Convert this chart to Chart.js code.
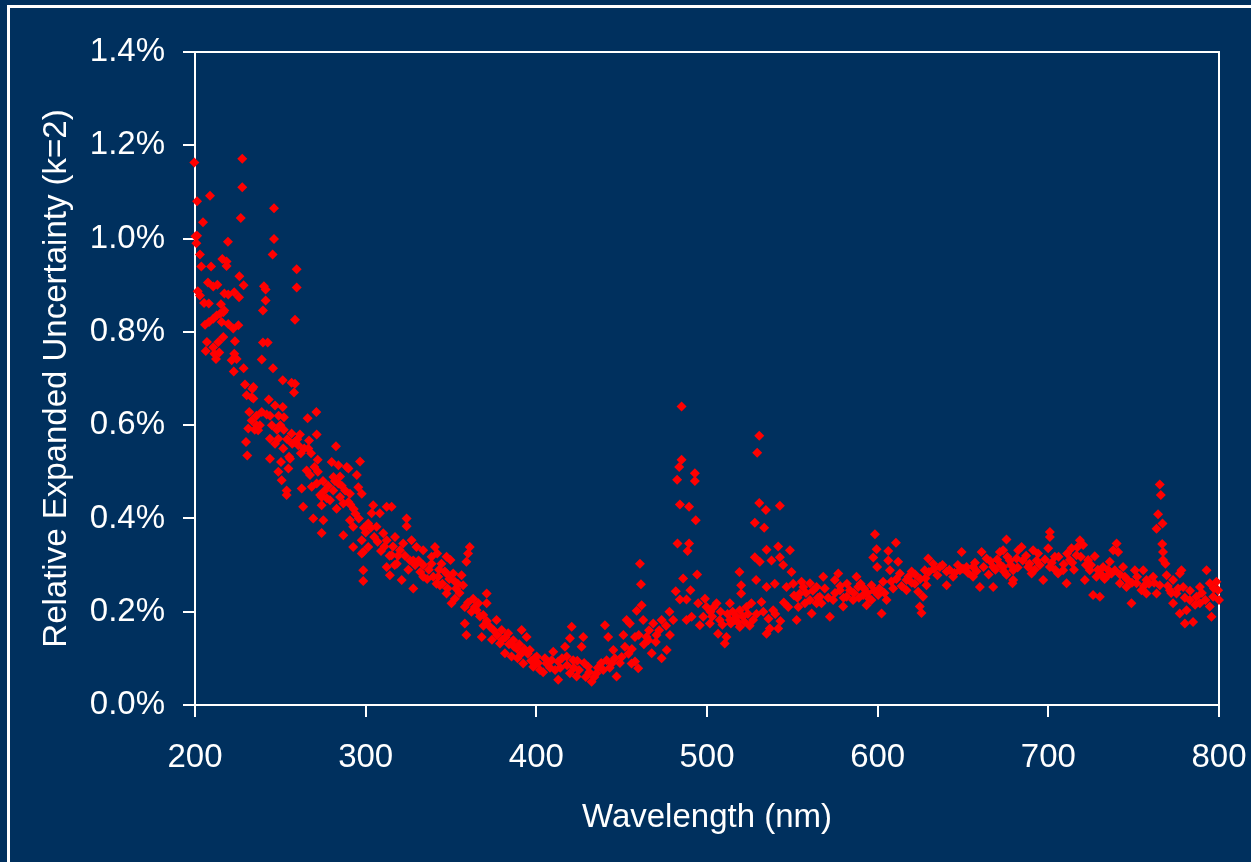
<!DOCTYPE html>
<html>
<head>
<meta charset="utf-8">
<title>Relative Expanded Uncertainty</title>
<script src="https://cdn.jsdelivr.net/npm/chart.js@4.4.1/dist/chart.umd.min.js"></script>
<style>
  html, body { margin: 0; padding: 0; background: #00305e; }
  #wrap { width: 1251px; height: 862px; }
</style>
</head>
<body>
<div id="wrap"><canvas id="uncertainty-chart" width="1251" height="862"></canvas></div>
<script>
// Wavelength (nm) of each measurement, grouped by spectral region
const wavelengthNm = [
  // 200-230 nm
  199.6, 200.3, 200.8, 201.2, 201.2, 201.6, 202.9, 202.9, 203.7, 204.7,
  205.3, 205.9, 206.3, 207.0, 207.6, 208.1, 208.2, 208.8, 209.4, 210.7,
  210.7, 210.7, 211.3, 212.3, 212.7, 213.1, 213.7, 214.2, 214.6, 215.2,
  215.6, 216.0, 216.6, 216.6, 217.2, 217.2, 218.5, 218.5, 219.3, 219.5,
  219.5, 221.5, 222.4, 222.7, 223.0, 223.0, 223.4, 224.4, 225.4, 225.8,
  226.0, 226.8, 227.7, 227.7, 228.5, 228.5, 229.3, 229.9, 230.3, 230.6,
  // 231-300 nm
  231.2, 231.8, 233.2, 233.2, 233.6, 234.2, 234.2, 235.0, 236.0, 236.1,
  237.0, 238.0, 239.1, 239.1, 239.8, 239.8, 240.4, 241.4, 241.4, 242.0,
  242.6, 243.2, 243.9, 243.9, 244.0, 245.0, 245.5, 245.7, 246.3, 246.3,
  246.9, 246.9, 248.0, 248.8, 248.8, 249.0, 250.0, 250.4, 250.8, 251.4,
  251.4, 251.7, 252.0, 252.1, 253.7, 253.7, 254.0, 254.7, 255.1, 255.7,
  256.6, 256.6, 257.0, 258.0, 258.6, 258.6, 258.6, 259.6, 259.6, 260.0,
  260.5, 261.5, 262.0, 262.5, 263.4, 264.0, 265.4, 266.0, 266.4, 266.8,
  267.4, 268.0, 268.4, 269.3, 270.0, 271.1, 271.3, 271.3, 271.9, 272.0,
  273.3, 274.2, 274.2, 274.2, 275.0, 275.2, 276.0, 277.2, 278.0, 279.1,
  280.1, 281.0, 281.1, 282.0, 282.6, 283.0, 284.0, 284.0, 285.0, 285.0,
  286.0, 286.9, 286.9, 288.0, 288.9, 289.9, 289.9, 290.8, 290.8, 291.0,
  292.7, 292.7, 293.0, 294.0, 294.8, 295.7, 296.0, 296.7, 297.7, 297.7,
  297.7, 298.6, 298.6, 298.6, 299.0, 300.0,
  // 301-400 nm
  301.5, 301.5, 303.0, 303.5, 304.4, 305.0, 306.4, 307.0, 308.3, 309.0,
  310.3, 311.0, 312.3, 312.3, 312.3, 314.0, 314.2, 315.2, 315.2, 316.0,
  317.0, 317.2, 318.2, 319.0, 320.1, 321.1, 322.0, 323.0, 324.0, 324.0,
  325.0, 326.0, 326.9, 327.9, 327.9, 329.0, 329.8, 331.0, 332.0, 333.7,
  333.7, 333.7, 336.0, 337.0, 338.6, 338.6, 339.6, 340.6, 341.5, 341.9,
  342.5, 343.0, 343.5, 344.4, 345.0, 346.4, 347.4, 347.4, 347.4, 348.0,
  349.0, 349.7, 350.3, 351.3, 352.3, 352.3, 353.0, 354.0, 355.0, 356.2,
  357.1, 358.1, 358.1, 359.0, 359.0, 360.0, 360.0, 361.0, 362.0, 363.0,
  364.0, 365.0, 366.0, 367.0, 368.0, 368.9, 369.0, 370.9, 370.9, 371.0,
  372.8, 374.0, 375.0, 376.7, 377.0, 378.7, 379.7, 380.0, 381.6, 382.0,
  383.5, 384.0, 385.5, 386.5, 387.0, 388.5, 389.0, 390.0, 391.4, 391.4,
  392.3, 393.0, 394.3, 395.0, 396.2, 397.0, 398.2, 399.0, 400.2,
  // 401-480 nm
  401.0, 402.1, 404.0, 405.0, 406.0, 408.0, 409.0, 409.9, 411.0, 412.8,
  412.8, 414.0, 415.0, 416.8, 417.8, 418.0, 419.7, 419.7, 420.7, 421.6,
  422.0, 423.6, 424.0, 425.0, 426.5, 427.5, 428.0, 429.0, 430.4, 431.0,
  432.4, 434.0, 435.3, 436.0, 438.0, 439.2, 440.2, 441.2, 442.1, 443.0,
  444.1, 445.1, 446.0, 447.0, 449.0, 450.0, 451.0, 451.9, 452.9, 454.0,
  454.8, 455.8, 456.0, 457.8, 457.8, 458.8, 459.7, 460.0, 460.7, 461.3,
  461.7, 462.6, 463.0, 464.6, 465.6, 466.0, 467.6, 468.5, 470.0, 470.4,
  472.0, 473.4, 473.4, 476.0, 476.4, 478.0, 478.3, 480.2,
  // 481-558 nm
  481.7, 482.5, 482.7, 483.7, 484.1, 484.1, 485.1, 485.1, 486.0, 488.0,
  488.0, 488.6, 489.5, 489.5, 490.3, 491.0, 492.9, 492.9, 493.4, 494.2,
  494.8, 495.8, 497.8, 498.8, 499.7, 501.7, 502.0, 503.0, 504.0, 505.6,
  506.5, 507.5, 508.0, 509.0, 510.4, 511.4, 512.0, 513.4, 513.4, 514.0,
  515.0, 516.0, 517.3, 518.0, 519.0, 519.2, 519.2, 520.0, 520.0, 521.0,
  522.0, 523.1, 524.0, 525.0, 526.0, 527.0, 528.0, 528.0, 528.8, 529.0,
  529.4, 530.6, 530.6, 530.9, 531.9, 533.0, 533.5, 534.5, 534.9, 534.9,
  534.9, 536.0, 536.8, 537.8, 538.8, 539.7, 540.0, 541.7, 541.7, 542.7,
  542.7, 543.0, 544.6, 545.0, 546.6, 547.6, 548.6, 549.5, 550.5, 551.0,
  552.5, 553.0, 553.5, 554.4, 555.4, 556.4, 557.4, 558.0,
  // 560-638 nm
  560.3, 560.3, 561.3, 562.0, 564.2, 564.2, 565.0, 566.1, 567.1, 568.1,
  569.0, 571.0, 572.0, 573.9, 574.9, 575.0, 576.9, 577.9, 578.0, 579.8,
  580.0, 581.8, 582.0, 583.7, 585.6, 586.0, 587.6, 588.6, 589.0, 590.0,
  591.5, 592.0, 593.5, 594.0, 595.0, 596.4, 596.4, 597.4, 598.0, 598.4,
  599.4, 599.7, 600.3, 601.0, 602.3, 603.2, 604.0, 605.2, 606.2, 606.2,
  607.2, 608.0, 609.1, 610.7, 611.0, 612.0, 613.0, 614.0, 616.9, 616.9,
  618.0, 619.9, 620.0, 621.8, 622.0, 623.7, 624.7, 625.0, 625.7, 626.6,
  627.6, 628.0, 628.6, 629.6, 630.0, 632.5, 633.0, 635.0, 636.4, 638.0,
  // 640-719 nm
  640.4, 640.4, 642.0, 644.2, 645.0, 647.0, 648.2, 649.2, 650.0, 652.1,
  653.0, 655.9, 655.9, 657.0, 658.0, 659.9, 660.9, 662.0, 663.8, 665.0,
  666.0, 667.7, 667.7, 669.0, 670.0, 671.6, 672.0, 673.5, 673.5, 674.0,
  675.5, 675.5, 676.0, 677.4, 678.0, 679.0, 679.4, 679.4, 681.4, 682.0,
  682.3, 684.3, 685.0, 687.0, 688.2, 689.0, 690.2, 691.1, 692.0, 693.1,
  694.0, 695.0, 697.0, 698.0, 699.9, 700.9, 700.9, 700.9, 702.0, 703.8,
  704.0, 705.7, 706.0, 708.7, 709.0, 710.7, 711.0, 712.6, 713.6, 714.0,
  715.0, 716.5, 717.0, 718.5, 719.0,
  // 720-800 nm
  720.4, 721.4, 722.0, 723.3, 724.3, 725.0, 726.2, 727.2, 728.2, 729.0,
  730.2, 731.0, 732.1, 733.0, 734.1, 735.0, 736.0, 737.0, 738.0, 739.0,
  740.0, 740.9, 741.9, 742.0, 743.8, 744.8, 745.8, 746.0, 748.7, 749.0,
  750.7, 751.7, 752.0, 754.6, 755.6, 756.0, 757.5, 757.5, 759.0, 761.4,
  762.0, 763.4, 763.4, 764.3, 765.3, 765.3, 765.9, 766.7, 766.9, 767.2,
  767.2, 768.6, 769.3, 770.0, 771.2, 772.0, 773.1, 773.1, 775.1, 776.0,
  777.0, 777.0, 778.0, 779.0, 780.0, 780.0, 781.0, 782.9, 783.0, 784.8,
  786.0, 786.8, 788.8, 788.8, 790.0, 792.0, 792.7, 794.6, 794.6, 795.6,
  796.6, 797.0, 798.5, 799.5, 800.0
];

// Relative expanded uncertainty (k=2) in percent, same order as wavelengthNm
const uncertaintyPct = [
  // 200-230 nm
  1.163, 1.005, 0.990, 1.080, 1.006, 0.887, 0.878, 0.966, 0.940, 1.035,
  0.862, 0.815, 0.759, 0.778, 0.906, 0.861, 0.821, 1.092, 0.940, 0.828,
  0.767, 0.897, 0.753, 0.742, 0.835, 0.901, 0.778, 0.756, 0.839, 0.859,
  0.821, 0.956, 0.842, 0.789, 0.882, 0.846, 0.951, 0.941, 0.993, 0.880,
  0.817, 0.739, 0.807, 0.715, 0.885, 0.753, 0.780, 0.742, 0.814, 0.874,
  0.919, 1.044, 1.171, 1.110, 0.900, 0.722, 0.687, 0.564, 0.664, 0.535,
  // 231-300 nm
  0.593, 0.628, 0.610, 0.660, 0.678, 0.657, 0.682, 0.590, 0.620, 0.600,
  0.589, 0.600, 0.741, 0.628, 0.777, 0.846, 0.898, 0.891, 0.867, 0.623,
  0.777, 0.655, 0.571, 0.528, 0.620, 0.600, 0.966, 0.722, 1.065, 0.999,
  0.642, 0.560, 0.590, 0.571, 0.500, 0.620, 0.600, 0.521, 0.482, 0.696,
  0.639, 0.550, 0.590, 0.617, 0.460, 0.450, 0.570, 0.507, 0.532, 0.528,
  0.691, 0.582, 0.560, 0.670, 0.689, 0.826, 0.564, 0.934, 0.895, 0.570,
  0.557, 0.580, 0.540, 0.464, 0.425, 0.550, 0.503, 0.615, 0.550, 0.567,
  0.493, 0.540, 0.468, 0.400, 0.510, 0.628, 0.580, 0.475, 0.526, 0.500,
  0.450, 0.446, 0.428, 0.369, 0.480, 0.396, 0.460, 0.443, 0.470, 0.439,
  0.521, 0.460, 0.489, 0.480, 0.555, 0.421, 0.514, 0.475, 0.446, 0.490,
  0.470, 0.432, 0.364, 0.460, 0.510, 0.507, 0.435, 0.453, 0.396, 0.430,
  0.382, 0.339, 0.420, 0.410, 0.493, 0.467, 0.400, 0.522, 0.453, 0.353,
  0.325, 0.328, 0.289, 0.266, 0.380, 0.370,
  // 301-400 nm
  0.389, 0.339, 0.380, 0.411, 0.428, 0.360, 0.382, 0.350, 0.411, 0.330,
  0.368, 0.340, 0.425, 0.353, 0.296, 0.320, 0.278, 0.425, 0.321, 0.340,
  0.300, 0.360, 0.303, 0.320, 0.332, 0.268, 0.346, 0.320, 0.400, 0.383,
  0.290, 0.310, 0.353, 0.310, 0.250, 0.300, 0.339, 0.310, 0.285, 0.332,
  0.300, 0.275, 0.270, 0.290, 0.318, 0.303, 0.275, 0.339, 0.260, 0.325,
  0.275, 0.290, 0.257, 0.303, 0.260, 0.286, 0.318, 0.282, 0.239, 0.250,
  0.270, 0.311, 0.218, 0.282, 0.264, 0.228, 0.250, 0.260, 0.240, 0.278,
  0.257, 0.210, 0.175, 0.307, 0.150, 0.325, 0.220, 0.339, 0.200, 0.228,
  0.210, 0.203, 0.218, 0.190, 0.146, 0.193, 0.170, 0.239, 0.218, 0.180,
  0.168, 0.140, 0.160, 0.182, 0.150, 0.132, 0.161, 0.140, 0.111, 0.145,
  0.154, 0.130, 0.104, 0.139, 0.125, 0.121, 0.100, 0.130, 0.161, 0.111,
  0.089, 0.120, 0.146, 0.110, 0.118, 0.095, 0.082, 0.100, 0.104,
  // 401-480 nm
  0.090, 0.075, 0.070, 0.100, 0.089, 0.080, 0.096, 0.114, 0.075, 0.093,
  0.054, 0.080, 0.100, 0.125, 0.104, 0.085, 0.143, 0.068, 0.168, 0.096,
  0.080, 0.061, 0.095, 0.075, 0.125, 0.146, 0.090, 0.060, 0.082, 0.070,
  0.050, 0.060, 0.068, 0.080, 0.090, 0.075, 0.171, 0.096, 0.146, 0.080,
  0.089, 0.118, 0.100, 0.061, 0.090, 0.103, 0.150, 0.125, 0.182, 0.110,
  0.175, 0.089, 0.120, 0.146, 0.093, 0.202, 0.079, 0.150, 0.303, 0.259,
  0.214, 0.182, 0.130, 0.146, 0.139, 0.160, 0.111, 0.175, 0.135, 0.150,
  0.160, 0.182, 0.100, 0.170, 0.118, 0.200, 0.150, 0.182,
  // 481-558 nm
  0.244, 0.483, 0.346, 0.510, 0.430, 0.226, 0.640, 0.526, 0.271, 0.226,
  0.182, 0.330, 0.425, 0.346, 0.246, 0.189, 0.497, 0.480, 0.396, 0.280,
  0.218, 0.171, 0.189, 0.228, 0.210, 0.175, 0.200, 0.190, 0.210, 0.218,
  0.153, 0.182, 0.200, 0.172, 0.132, 0.146, 0.195, 0.218, 0.182, 0.175,
  0.200, 0.182, 0.189, 0.178, 0.285, 0.203, 0.167, 0.257, 0.239, 0.190,
  0.178, 0.210, 0.195, 0.170, 0.218, 0.182, 0.391, 0.317, 0.268, 0.195,
  0.541, 0.577, 0.433, 0.307, 0.221, 0.200, 0.380, 0.418, 0.333, 0.253,
  0.153, 0.185, 0.164, 0.310, 0.203, 0.260, 0.195, 0.340, 0.164, 0.427,
  0.317, 0.180, 0.300, 0.220, 0.253, 0.210, 0.332, 0.285, 0.260, 0.235,
  0.182, 0.230, 0.210, 0.239, 0.264, 0.253, 0.218, 0.240,
  // 560-638 nm
  0.261, 0.225, 0.196, 0.245, 0.253, 0.218, 0.230, 0.232, 0.218, 0.275,
  0.250, 0.230, 0.189, 0.225, 0.268, 0.240, 0.282, 0.246, 0.255, 0.211,
  0.230, 0.232, 0.260, 0.246, 0.225, 0.240, 0.275, 0.253, 0.230, 0.260,
  0.236, 0.250, 0.214, 0.240, 0.228, 0.257, 0.225, 0.316, 0.245, 0.366,
  0.334, 0.296, 0.236, 0.250, 0.196, 0.264, 0.240, 0.225, 0.330, 0.310,
  0.289, 0.265, 0.250, 0.348, 0.270, 0.307, 0.282, 0.255, 0.268, 0.246,
  0.275, 0.286, 0.262, 0.260, 0.280, 0.243, 0.211, 0.270, 0.197, 0.232,
  0.289, 0.272, 0.257, 0.314, 0.285, 0.303, 0.292, 0.278, 0.296, 0.300,
  // 640-719 nm
  0.286, 0.257, 0.290, 0.275, 0.283, 0.300, 0.289, 0.328, 0.292, 0.296,
  0.283, 0.296, 0.275, 0.305, 0.287, 0.253, 0.328, 0.296, 0.314, 0.280,
  0.308, 0.296, 0.253, 0.290, 0.312, 0.328, 0.300, 0.332, 0.296, 0.286,
  0.355, 0.279, 0.318, 0.310, 0.300, 0.261, 0.289, 0.268, 0.314, 0.295,
  0.332, 0.339, 0.310, 0.320, 0.296, 0.303, 0.282, 0.332, 0.290, 0.310,
  0.325, 0.300, 0.268, 0.312, 0.336, 0.371, 0.360, 0.296, 0.305, 0.318,
  0.290, 0.282, 0.318, 0.289, 0.302, 0.261, 0.325, 0.311, 0.336, 0.305,
  0.290, 0.321, 0.338, 0.353, 0.318,
  // 720-800 nm
  0.343, 0.268, 0.300, 0.311, 0.289, 0.300, 0.236, 0.319, 0.275, 0.290,
  0.232, 0.280, 0.296, 0.270, 0.275, 0.290, 0.307, 0.282, 0.332, 0.289,
  0.346, 0.328, 0.261, 0.280, 0.296, 0.275, 0.253, 0.270, 0.218, 0.262,
  0.289, 0.261, 0.275, 0.246, 0.289, 0.255, 0.268, 0.239, 0.260, 0.275,
  0.262, 0.378, 0.239, 0.409, 0.473, 0.257, 0.450, 0.345, 0.389, 0.328,
  0.311, 0.303, 0.278, 0.255, 0.246, 0.240, 0.268, 0.218, 0.239, 0.250,
  0.282, 0.196, 0.289, 0.253, 0.175, 0.230, 0.203, 0.225, 0.245, 0.178,
  0.215, 0.232, 0.218, 0.253, 0.240, 0.225, 0.289, 0.261, 0.211, 0.189,
  0.232, 0.250, 0.264, 0.246, 0.225
];

const xTickValues = [200, 300, 400, 500, 600, 700, 800];
const yTickValues = [0, 0.2, 0.4, 0.6, 0.8, 1.0, 1.2, 1.4];

const NAVY = '#00305e';
const WHITE = '#ffffff';
const FONT = 'Arial, "Liberation Sans", sans-serif';

// navy fill, outer white frame, and the top/right edges of the plot box
const framePlugin = {
    id: 'frame',
    beforeDraw(chart) {
        const ctx = chart.ctx;
        ctx.save();
        ctx.fillStyle = NAVY;
        ctx.fillRect(0, 0, chart.width, chart.height);
        ctx.strokeStyle = WHITE;
        ctx.lineWidth = 3;
        ctx.strokeRect(8.5, 6.5, chart.width + 20, chart.height + 20);
        ctx.restore();
    },
    beforeDatasetsDraw(chart) {
        const a = chart.chartArea;
        const ctx = chart.ctx;
        ctx.save();
        ctx.strokeStyle = WHITE;
        ctx.lineWidth = 2;
        ctx.beginPath();
        ctx.moveTo(a.left, a.top);
        ctx.lineTo(a.right, a.top);
        ctx.lineTo(a.right, a.bottom);
        ctx.stroke();
        ctx.restore();
    }
};

const points = wavelengthNm.map((nm, i) => ({ x: nm, y: uncertaintyPct[i] }));

const ctx = document.getElementById('uncertainty-chart').getContext('2d');
const chart = new Chart(ctx, {
    type: 'scatter',
    data: {
        datasets: [{
            label: 'Relative Expanded Uncertainty (k=2)',
            data: points,
            pointStyle: 'rectRot',
            pointRadius: 5,
            pointBorderWidth: 0,
            backgroundColor: '#ff0000',
            borderColor: '#ff0000',
            clip: false
        }]
    },
    options: {
        responsive: false,
        devicePixelRatio: 1,
        animation: false,
        events: [],
        layout: { padding: { top: 52, right: 32, bottom: 0, left: 0 } },
        plugins: {
            legend: { display: false },
            tooltip: { enabled: false }
        },
        scales: {
            x: {
                type: 'linear',
                min: 200,
                max: 800,
                afterBuildTicks: s => { s.ticks = xTickValues.map(v => ({ value: v })); },
                afterFit: s => { s.height = 157; s.paddingLeft = 0; s.paddingRight = 0; },
                grid: { drawOnChartArea: false, drawTicks: true, tickLength: 12, color: WHITE, lineWidth: 2 },
                border: { display: true, color: WHITE, width: 2 },
                ticks: {
                    color: WHITE,
                    font: { family: FONT, size: 33 },
                    padding: 21,
                    maxRotation: 0,
                    autoSkip: false
                },
                title: {
                    display: true,
                    text: 'Wavelength (nm)',
                    color: WHITE,
                    font: { family: FONT, size: 33 },
                    padding: { top: 0, bottom: 24 }
                }
            },
            y: {
                type: 'linear',
                min: 0,
                max: 1.4,
                afterBuildTicks: s => { s.ticks = yTickValues.map(v => ({ value: v })); },
                afterFit: s => { s.width = 195; s.paddingTop = 0; s.paddingBottom = 0; },
                grid: { drawOnChartArea: false, drawTicks: true, tickLength: 12, color: WHITE, lineWidth: 2 },
                border: { display: true, color: WHITE, width: 2 },
                ticks: {
                    color: WHITE,
                    font: { family: FONT, size: 33 },
                    padding: 18,
                    callback: v => v.toFixed(1) + '%'
                },
                title: {
                    display: true,
                    text: 'Relative Expanded Uncertainty (k=2)',
                    color: WHITE,
                    font: { family: FONT, size: 33 },
                    padding: { top: 37, bottom: 0 }
                }
            }
        }
    },
    plugins: [framePlugin]
});
</script>
</body>
</html>
